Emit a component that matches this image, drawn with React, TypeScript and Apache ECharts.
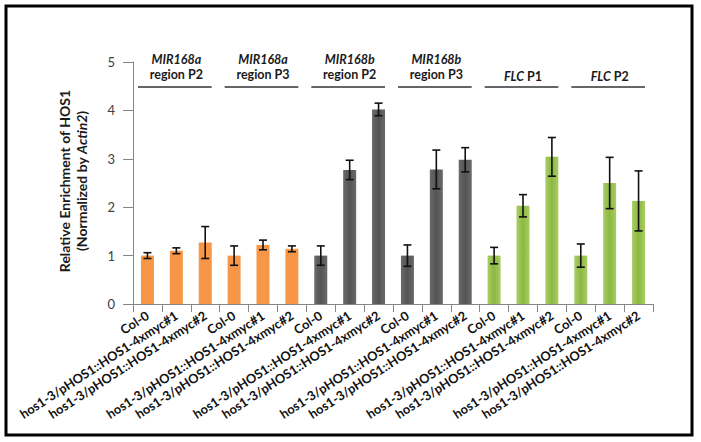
import React, { useEffect, useRef } from "react";
import * as echarts from "echarts";

const sampleNames = ["Col-0", "hos1-3/pHOS1::HOS1-4xmyc#1", "hos1-3/pHOS1::HOS1-4xmyc#2"];
const groupGenes = ["MIR168a", "MIR168a", "MIR168b", "MIR168b", "FLC", "FLC"];
const groupRegions = ["region P2", "region P3", "region P2", "region P3", " P1", " P2"];
const groupTwoLine = [true, true, true, true, false, false];
const categories = groupGenes.flatMap(() => sampleNames);
const values = [1.0, 1.1, 1.27, 1.0, 1.22, 1.14, 1.0, 2.77, 4.02, 1.0, 2.78, 2.98, 1.0, 2.03, 3.04, 1.0, 2.5, 2.13];
const errors = [0.06, 0.06, 0.33, 0.2, 0.1, 0.06, 0.2, 0.2, 0.13, 0.22, 0.4, 0.25, 0.17, 0.23, 0.4, 0.24, 0.53, 0.62];
const groupColorKeys = ["orange", "orange", "gray", "gray", "green", "green"];
const yMin = 0;
const yMax = 5;
const yInterval = 1;

const FONT = "Lato";

function barColor(key: string) {
  if (key === "orange") return "#F79646";
  if (key === "gray")
    return new echarts.graphic.LinearGradient(0, 0, 1, 0, [
      { offset: 0, color: "#6a6a6a" },
      { offset: 0.5, color: "#545454" },
      { offset: 1, color: "#6a6a6a" },
    ]);
  return new echarts.graphic.LinearGradient(0, 0, 1, 0, [
    { offset: 0, color: "#a9cd66" },
    { offset: 0.5, color: "#8cb842" },
    { offset: 1, color: "#a9cd66" },
  ]);
}

export default function App() {
  const ref = useRef<HTMLDivElement>(null);
  useEffect(() => {
    if (!ref.current) return;
    const chart = echarts.init(ref.current, undefined, { renderer: "svg" });
    const axisColor = "#868686";
    chart.setOption({
      animation: false,
      backgroundColor: "#ffffff",
      grid: { left: 133, right: 48, top: 62, bottom: 138, containLabel: false },
      xAxis: {
        type: "category",
        data: categories.map((_, i) => String(i)),
        axisLine: { lineStyle: { color: axisColor, width: 1 } },
        axisTick: { show: true, alignWithLabel: false, length: 8, lineStyle: { color: axisColor } },
        axisLabel: {
          interval: 0,
          rotate: 33,
          margin: 10,
          formatter: (v: string) => categories[Number(v)],
          fontFamily: FONT,
          fontWeight: "bold",
          fontSize: 12.8,
          color: "#111111",
        },
      },
      yAxis: {
        type: "value",
        min: yMin,
        max: yMax,
        interval: yInterval,
        splitLine: { show: false },
        axisLine: { show: true, lineStyle: { color: axisColor, width: 1 } },
        axisTick: { show: true, length: 10, lineStyle: { color: axisColor } },
        axisLabel: { margin: 18, fontFamily: FONT, fontSize: 13, color: "#404040" },
      },
      series: [
        {
          type: "bar",
          barWidth: "45%",
          data: values.map((v, i) => ({
            value: v,
            itemStyle: { color: barColor(groupColorKeys[Math.floor(i / 3)]) },
          })),
        },
        {
          type: "custom",
          data: values.map((v, i) => [i, v - errors[i], v + errors[i]]),
          encode: { x: 0, y: [1, 2] },
          z: 10,
          renderItem: (params: any, api: any) => {
            const lo = api.coord([api.value(0), api.value(1)]);
            const hi = api.coord([api.value(0), api.value(2)]);
            const hw = 4;
            const style = { stroke: "#111111", lineWidth: 1.6 };
            return {
              type: "group",
              children: [
                { type: "line", shape: { x1: hi[0], y1: hi[1], x2: lo[0], y2: lo[1] }, style },
                { type: "line", shape: { x1: hi[0] - hw, y1: hi[1], x2: hi[0] + hw, y2: hi[1] }, style },
                { type: "line", shape: { x1: lo[0] - hw, y1: lo[1], x2: lo[0] + hw, y2: lo[1] }, style },
              ],
            };
          },
        },
      ],
    });

    const graphics: any[] = [
      {
        type: "rect",
        shape: { x: 6, y: 6, width: 686, height: 429 },
        style: { fill: "none", stroke: "#000000", lineWidth: 3 },
        silent: true,
      },
      {
        type: "text",
        x: 73,
        y: 181,
        rotation: Math.PI / 2,
        style: {
          text: "{n|Relative Enrichment of HOS1}\n{n|(Normalized by }{i|Actin2}{n|)}",
          align: "center",
          verticalAlign: "middle",
          rich: {
            n: { fontFamily: FONT, fontWeight: "bold", fontSize: 14, fill: "#1a1a1a", lineHeight: 16.5 },
            i: { fontFamily: FONT, fontWeight: "bold", fontStyle: "italic", fontSize: 14, fill: "#1a1a1a", lineHeight: 16.5 },
          },
        },
      },
    ];
    const lineY = chart.convertToPixel({ yAxisIndex: 0 }, 5) + 25;
    groupGenes.forEach((gene, g) => {
      const xa = chart.convertToPixel({ xAxisIndex: 0 }, g * 3);
      const xb = chart.convertToPixel({ xAxisIndex: 0 }, g * 3 + 2);
      const half = (chart.convertToPixel({ xAxisIndex: 0 }, 1) - chart.convertToPixel({ xAxisIndex: 0 }, 0)) / 2;
      const left = xa - half + 5;
      const right = xb + half - 8;
      const cx = (xa + xb) / 2;
      graphics.push({
        type: "line",
        shape: { x1: left, y1: lineY, x2: right, y2: lineY },
        style: { stroke: "#333333", lineWidth: 1.5 },
      });
      if (groupTwoLine[g]) {
        graphics.push({
          type: "text",
          x: cx,
          y: lineY - 27.5,
          style: {
            text: gene,
            align: "center",
            verticalAlign: "middle",
            fontFamily: FONT,
            fontWeight: "bold",
            fontStyle: "italic",
            fontSize: 12.5,
            fill: "#1a1a1a",
          },
        });
        graphics.push({
          type: "text",
          x: cx,
          y: lineY - 12.5,
          style: {
            text: groupRegions[g],
            align: "center",
            verticalAlign: "middle",
            fontFamily: FONT,
            fontWeight: "bold",
            fontSize: 12.5,
            fill: "#1a1a1a",
          },
        });
      } else {
        graphics.push({
          type: "text",
          x: cx,
          y: lineY - 11,
          style: {
            text: `{i|${gene}}{n|${groupRegions[g]}}`,
            align: "center",
            verticalAlign: "middle",
            rich: {
              n: { fontFamily: FONT, fontWeight: "bold", fontSize: 12.5, fill: "#1a1a1a" },
              i: { fontFamily: FONT, fontWeight: "bold", fontStyle: "italic", fontSize: 12.5, fill: "#1a1a1a" },
            },
          },
        });
      }
    });
    chart.setOption({ graphic: graphics });
    return () => chart.dispose();
  }, []);
  return (
    <div
      ref={ref}
      style={{ position: "absolute", left: 0, top: 0, width: 701, height: 442, background: "#fff" }}
    />
  );
}
